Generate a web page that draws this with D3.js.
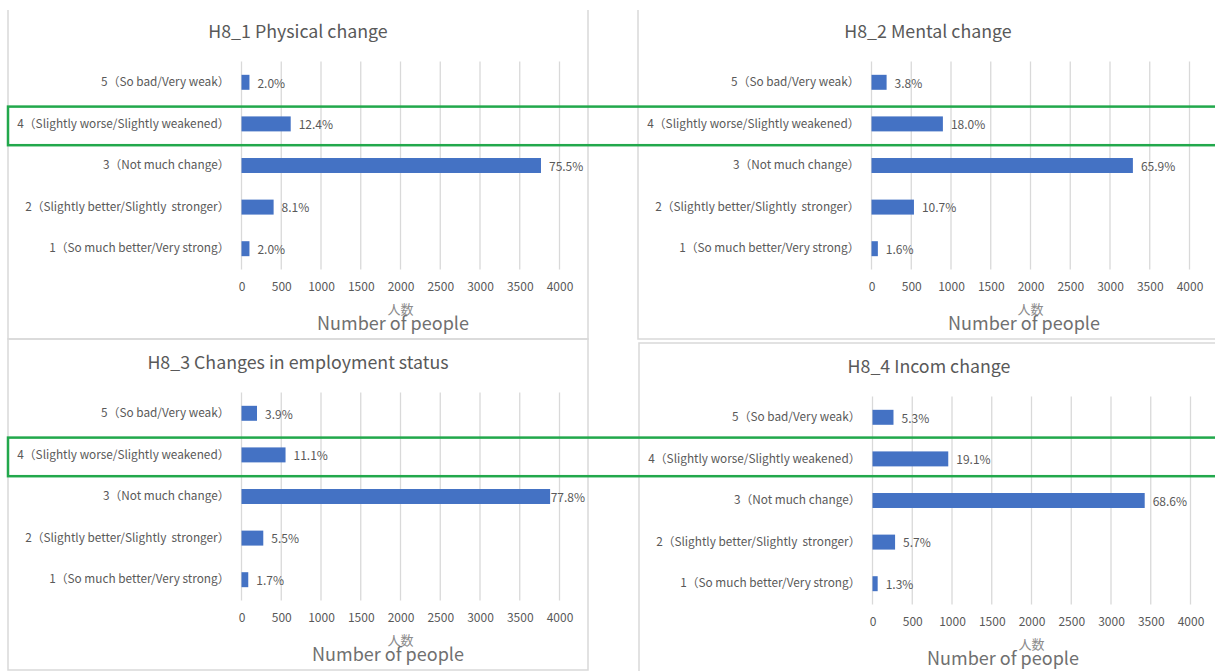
<!DOCTYPE html>
<html>
<head>
<meta charset="utf-8">
<script src="https://cdn.jsdelivr.net/npm/d3@7"></script>
<style>
  body { margin: 0; background: #ffffff; }
  svg { display: block; }
  text { font-family: "Noto Sans CJK JP", "Noto Sans", sans-serif; }
</style>
</head>
<body>
<svg id="chart" width="1215" height="671"></svg>
<script>
// Answer categories, listed top to bottom
const categories = [
  "5（So bad/Very weak）",
  "4（Slightly worse/Slightly weakened）",
  "3（Not much change）",
  "2（Slightly better/Slightly  stronger）",
  "1（So much better/Very strong）"
];

// Axis ticks (number of respondents)
const tickValues = [0, 500, 1000, 1500, 2000, 2500, 3000, 3500, 4000];

const panelTitles = [
  "H8_1 Physical change",
  "H8_2 Mental change",
  "H8_3 Changes in employment status",
  "H8_4 Incom change"
];

// Respondent counts per category (same order as categories)
const physicalCounts   = [100, 619, 3767, 404, 100];
const mentalCounts     = [190, 898, 3288, 534, 80];
const employmentCounts = [195, 554, 3882, 274, 85];
const incomeCounts     = [264, 953, 3424, 284, 65];

const axisTitle = "人数";
const axisNote = "Number of people";

// The highlighted answer row
const highlightCategory = categories[1];

const svg = d3.select("#chart");
const pct = d3.format(".1%");

const GRID = "#d9d9d9";
const TEXT = "#595959";
const BAR = "#4472c4";
const HIGHLIGHT = "#22a84c";

// Panel frames: left/top origin, frame extent and placement of the note text
const panels = [
  { title: panelTitles[0], counts: physicalCounts,   left: 8,   top: 8,   right: 588,  bottom: 339, topLine: null, noteX: 385 },
  { title: panelTitles[1], counts: mentalCounts,     left: 638, top: 8,   right: 1218, bottom: 339, topLine: null, noteX: 386 },
  { title: panelTitles[2], counts: employmentCounts, left: 8,   top: 339, right: 588,  bottom: 670, topLine: 339,  noteX: 380 },
  { title: panelTitles[3], counts: incomeCounts,     left: 639, top: 343, right: 1219, bottom: 690, topLine: 343,  noteX: 364 }
];

const plotX0 = 233.5;     // offset of the value-axis zero from the frame's left edge
const plotW = 318;        // width spanned by 0..4000
const gridTop = 53.5;
const gridH = 208;

const yScales = [];

panels.forEach((p, i) => {
  const g = svg.append("g").attr("transform", `translate(${p.left},${p.top})`);
  const w = p.right - p.left;

  // frame
  const frame = d3.path();
  const fTop = p.topLine === null ? 10 - p.top : 0;
  frame.moveTo(0, fTop);
  frame.lineTo(0, p.bottom - p.top);
  frame.lineTo(w, p.bottom - p.top);
  frame.lineTo(w, fTop);
  if (p.topLine !== null) frame.closePath();
  g.append("path").attr("d", frame.toString())
    .attr("fill", "none").attr("stroke", GRID).attr("stroke-width", 1.5);

  const total = d3.sum(p.counts);
  const x = d3.scaleLinear().domain([0, 4000]).range([plotX0, plotX0 + plotW]);
  const y = d3.scaleBand().domain(categories).range([gridTop, gridTop + gridH])
    .paddingInner(0.64).paddingOuter(0.32);
  yScales.push(y);

  // title
  g.append("text").attr("x", w / 2).attr("y", 24).attr("dy", "0.35em")
    .attr("text-anchor", "middle").attr("fill", TEXT).attr("font-size", 17.8)
    .text(p.title);

  // vertical gridlines
  g.append("g").selectAll("line").data(tickValues).join("line")
    .attr("x1", d => x(d)).attr("x2", d => x(d))
    .attr("y1", gridTop).attr("y2", gridTop + gridH)
    .attr("stroke", GRID).attr("stroke-width", 1.3);

  // value axis
  const axis = g.append("g").attr("transform", `translate(0,${gridTop + gridH})`)
    .call(d3.axisBottom(x).tickValues(tickValues).tickSize(0).tickPadding(13).tickFormat(d3.format("d")));
  axis.select(".domain").remove();
  axis.selectAll("text").attr("fill", TEXT).attr("font-size", 12)
    .style("font-family", '"Noto Sans CJK JP", sans-serif');

  // category axis
  const cat = g.append("g").attr("transform", `translate(${plotX0},0)`)
    .call(d3.axisLeft(y).tickSize(0).tickPadding(12));
  cat.select(".domain").remove();
  cat.selectAll("text").attr("fill", TEXT).attr("font-size", 11.8)
    .style("font-family", '"Noto Sans CJK JP", sans-serif')
    .style("white-space", "pre");

  // bars
  const rows = categories.map((c, k) => ({ cat: c, count: p.counts[k] }));
  g.append("g").selectAll("rect").data(rows).join("rect")
    .attr("x", x(0)).attr("y", d => y(d.cat))
    .attr("width", d => x(d.count) - x(0)).attr("height", y.bandwidth())
    .attr("fill", BAR);

  // percentage labels, kept inside the frame
  g.append("g").selectAll("text").data(rows).join("text")
    .attr("y", d => y(d.cat) + y.bandwidth() / 2 + 1).attr("dy", "0.35em")
    .attr("fill", TEXT).attr("font-size", 12)
    .text(d => pct(d.count / total))
    .attr("x", function (d) {
      const tw = this.getComputedTextLength();
      return Math.min(x(d.count) + 8, w - 3 - tw);
    });

  // axis titles
  g.append("text").attr("x", plotX0 + plotW / 2).attr("y", 301).attr("dy", "0.35em")
    .attr("text-anchor", "middle").attr("fill", "#8c8c8c").attr("font-size", 13)
    .text(axisTitle);
  g.append("text").attr("x", p.noteX).attr("y", 316).attr("dy", "0.35em")
    .attr("text-anchor", "middle").attr("fill", "#707070").attr("font-size", 18)
    .text(axisNote);
});

// Highlight boxes around the "slightly worse" row of the upper and lower panel pairs
[0, 2].forEach(i => {
  const p = panels[i];
  const y = yScales[i];
  const cy = p.top + y(highlightCategory) + y.bandwidth() / 2 + 2;
  svg.append("rect")
    .attr("x", 8).attr("y", cy - 19.3)
    .attr("width", 1230).attr("height", 38.6)
    .attr("fill", "none").attr("stroke", HIGHLIGHT).attr("stroke-width", 2.5);
});
</script>
</body>
</html>
